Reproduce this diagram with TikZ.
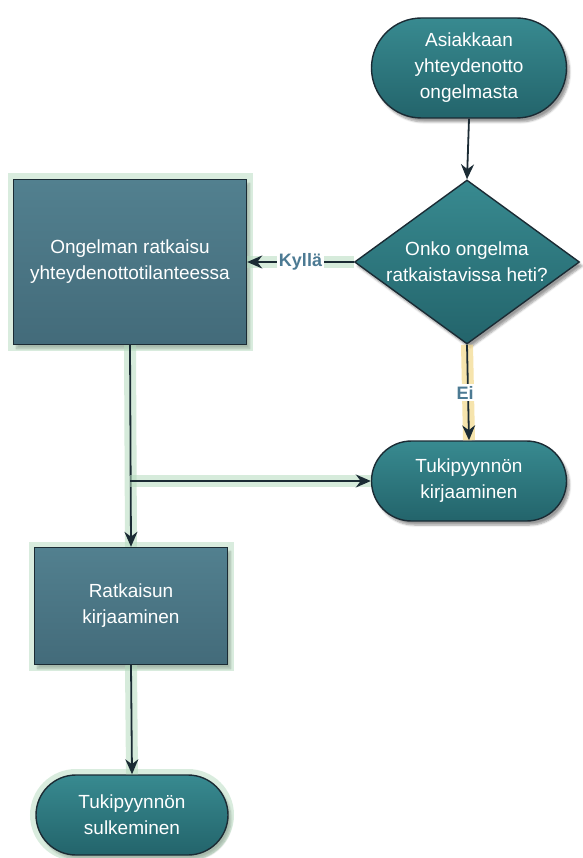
\documentclass[tikz,border=0pt]{standalone}
\usepackage{fontspec}
\setmainfont{Liberation Sans}
\usetikzlibrary{arrows.meta,shapes.geometric,shapes.misc,shadows.blur}
\definecolor{termA}{HTML}{388A90}
\definecolor{termB}{HTML}{23646B}
\definecolor{boxA}{HTML}{52808F}
\definecolor{boxB}{HTML}{436B7A}
\definecolor{edge}{HTML}{1B2B34}
\definecolor{glowG}{HTML}{B4DABD}
\definecolor{glowY}{HTML}{F2D88A}
\definecolor{lbl}{HTML}{4C7A93}
\begin{document}
\begin{tikzpicture}[x=1pt,y=-1pt,
  txt/.style={text=white, align=center, font=\fontsize{19}{26}\selectfont},
  base/.style={draw=edge, line width=1.4pt, txt, inner sep=0pt,
    blur shadow={shadow blur steps=6, shadow xshift=3pt, shadow yshift=-4pt, shadow opacity=40}},
  term/.style={base, rounded rectangle, top color=termA, bottom color=termB},
  proc/.style={base, rectangle, top color=boxA, bottom color=boxB},
  decision/.style={base, diamond, top color=termA, bottom color=termB},
  glowbox/.style={preaction={draw=glowG, line width=12pt, opacity=0.5}},
  conn/.style={draw=edge, line width=1.8pt, -{Stealth[length=15pt,width=13pt]}},
  gconn/.style={conn, preaction={draw=glowG, line width=12pt, opacity=0.55, -}},
  yconn/.style={conn, preaction={draw=glowY, line width=12pt, opacity=0.7, -}},
  elabel/.style={fill=white, text=lbl, inner sep=1.5pt, font=\fontsize{18}{20}\selectfont\bfseries}
]
\useasboundingbox (0,0) rectangle (582,858);

\node[term, minimum width=195pt, minimum height=100pt] (start) at (469,68)
  {Asiakkaan\\yhteydenotto\\ongelmasta};
\node[decision, minimum width=225pt, minimum height=164pt,
  label={[txt]center:Onko ongelma\\ratkaistavissa heti?}] (dec) at (467,262) {};
\node[proc, glowbox, minimum width=233pt, minimum height=165pt] (p1) at (130,262)
  {Ongelman ratkaisu\\yhteydenottotilanteessa};
\node[term, minimum width=195pt, minimum height=80pt] (t2) at (469,481)
  {Tukipyynnön\\kirjaaminen};
\node[proc, glowbox, minimum width=193pt, minimum height=117pt] (p2) at (131,606)
  {Ratkaisun\\kirjaaminen};
\node[term, glowbox, minimum width=192pt, minimum height=80pt] (t3) at (132,815)
  {Tukipyynnön\\sulkeminen};

\draw[conn] (start.south) -- (dec.north);
\draw[gconn] (dec.west) -- node[elabel] {Kyllä} (p1.east);
\draw[yconn] (dec.south) -- node[elabel, xshift=-3pt] {Ei} (t2.north);
\coordinate (br) at (p1.south |- t2.west);
\draw[gconn] (p1.south) -- (p2.north);
\draw[gconn] (br) -- (t2.west);
\draw[gconn] (p2.south) -- (t3.north);
\end{tikzpicture}
\end{document}
